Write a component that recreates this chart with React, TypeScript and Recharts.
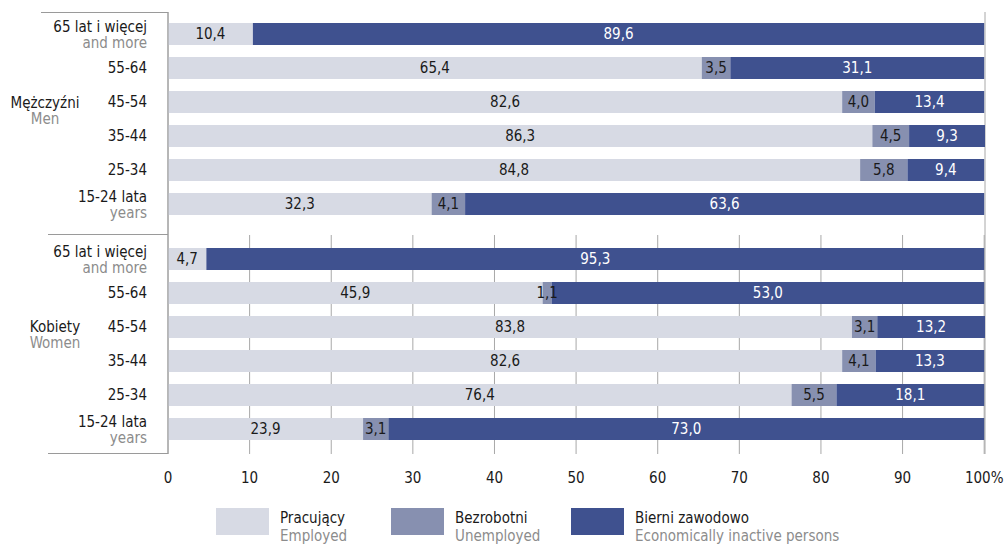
import React from 'react';
import { BarChart, Bar, XAxis, YAxis, CartesianGrid, LabelList } from 'recharts';

// age groups, top to bottom
const ages = ['65+', '55-64', '45-54', '35-44', '25-34', '15-24'];
const ageMain = ['65 lat i więcej', '55-64', '45-54', '35-44', '25-34', '15-24 lata'];
const ageSub = ['and more', '', '', '', '', 'years'];

const menEmployed = [10.4, 65.4, 82.6, 86.3, 84.8, 32.3];
const menUnemployed = [null, 3.5, 4.0, 4.5, 5.8, 4.1];
const menInactive = [89.6, 31.1, 13.4, 9.3, 9.4, 63.6];

const womenEmployed = [4.7, 45.9, 83.8, 82.6, 76.4, 23.9];
const womenUnemployed = [null, 1.1, 3.1, 4.1, 5.5, 3.1];
const womenInactive = [95.3, 53.0, 13.2, 13.3, 18.1, 73.0];

const xTicks = [0, 10, 20, 30, 40, 50, 60, 70, 80, 90, 100];

const seriesKeys = ['employed', 'unemployed', 'inactive'];
const seriesColors = ['#d7dae4', '#8790b0', '#3f518f'];
const seriesLabelColors = ['#1a1a1a', '#1a1a1a', '#ffffff'];
const legendMain = ['Pracujący', 'Bezrobotni', 'Bierni zawodowo'];
const legendSub = ['Employed', 'Unemployed', 'Economically inactive persons'];

const FONT = '"Liberation Sans Narrow", "DejaVu Sans Condensed", "Roboto", sans-serif';
const TEXT = '#1a1a1a';
const GREY_TEXT = '#8c8c8c';
const LINE = '#9a9a9a';

const buildRows = (emp: number[], unemp: (number | null)[], inact: number[]) =>
  ages.map((age, i) => ({ age, employed: emp[i], unemployed: unemp[i], inactive: inact[i] }));

const menData = buildRows(menEmployed, menUnemployed, menInactive);
const womenData = buildRows(womenEmployed, womenUnemployed, womenInactive);

const fmt = (v: any) => (v === null || v === undefined ? '' : Number(v).toFixed(1).replace('.', ','));

function AgeTick(props: any) {
  const { x, y, payload } = props;
  const i = ages.indexOf(payload.value);
  const sub = ageSub[i];
  const style = { fontFamily: FONT, fontSize: 15 };
  if (!sub) {
    return (
      <text x={x} y={y} textAnchor="end" dominantBaseline="central" fill={TEXT} style={style}>
        {ageMain[i]}
      </text>
    );
  }
  return (
    <g>
      <text x={x} y={y - 7} textAnchor="end" dominantBaseline="central" fill={TEXT} style={style}>
        {ageMain[i]}
      </text>
      <text x={x} y={y + 9} textAnchor="end" dominantBaseline="central" fill={GREY_TEXT} style={style}>
        {sub}
      </text>
    </g>
  );
}

function Bars() {
  return seriesKeys.map((key, i) => (
    <Bar key={key} dataKey={key} stackId="a" fill={seriesColors[i]} barSize={22} isAnimationActive={false}>
      <LabelList
        dataKey={key}
        position="center"
        formatter={fmt}
        fill={seriesLabelColors[i]}
        style={{ fontFamily: FONT, fontSize: 15 }}
      />
    </Bar>
  ));
}

const hLine = (left: number, top: number, width: number) => (
  <div style={{ position: 'absolute', left, top, width, height: 1, background: LINE }} />
);

const groupLabel = (main: string, sub: string, cx: number, top: number) => (
  <div
    style={{
      position: 'absolute', left: cx - 50, top, width: 100, textAlign: 'center',
      fontFamily: FONT, fontSize: 15, lineHeight: '16px',
    }}
  >
    <div style={{ color: TEXT }}>{main}</div>
    <div style={{ color: GREY_TEXT }}>{sub}</div>
  </div>
);

export default function App() {
  return (
    <div style={{ position: 'absolute', left: 0, top: 0, width: 1004, height: 544, background: '#fff', overflow: 'hidden' }}>
      {/* Men */}
      <div style={{ position: 'absolute', left: 0, top: 0 }}>
        <BarChart width={1004} height={235} data={menData} layout="vertical" margin={{ top: 12, right: 19, bottom: 0, left: 0 }}>
          <CartesianGrid horizontal={false} stroke="#a8a8a8" />
          <XAxis type="number" domain={[0, 100]} ticks={xTicks} height={0} tick={false} axisLine={false} tickLine={false} />
          <YAxis
            type="category"
            dataKey="age"
            width={168}
            padding={{ top: 5, bottom: 14 }}
            tick={<AgeTick />}
            tickSize={0}
            tickMargin={21}
            tickLine={false}
            axisLine={{ stroke: LINE }}
            interval={0}
          />
          {Bars()}
        </BarChart>
      </div>

      {/* Women */}
      <div style={{ position: 'absolute', left: 0, top: 235 }}>
        <BarChart width={1004} height={309} data={womenData} layout="vertical" margin={{ top: 0, right: 19, bottom: 50, left: 0 }}>
          <CartesianGrid horizontal={false} stroke="#a8a8a8" />
          <XAxis
            type="number"
            domain={[0, 100]}
            ticks={xTicks}
            height={40}
            axisLine={false}
            tickLine={false}
            tickSize={0}
            tickMargin={18}
            tickFormatter={(v: number) => (v === 100 ? '100%' : String(v))}
            tick={{ fill: TEXT, fontFamily: FONT, fontSize: 15 }}
            interval={0}
          />
          <YAxis
            type="category"
            dataKey="age"
            width={168}
            padding={{ top: 7, bottom: 8 }}
            tick={<AgeTick />}
            tickSize={0}
            tickMargin={21}
            tickLine={false}
            axisLine={{ stroke: LINE }}
            interval={0}
          />
          {Bars()}
        </BarChart>
      </div>

      {/* left table lines */}
      {hLine(41, 12, 127)}
      {hLine(48, 234, 120)}
      {hLine(48, 453, 120)}

      {groupLabel('Mężczyźni', 'Men', 45, 95)}
      {groupLabel('Kobiety', 'Women', 55, 319)}

      {/* legend */}
      {legendMain.map((label, i) => {
        const left = [216, 391, 571][i];
        return (
          <div key={label} style={{ position: 'absolute', left, top: 508, display: 'flex', fontFamily: FONT, fontSize: 15 }}>
            <div style={{ width: 53, height: 27, background: seriesColors[i] }} />
            <div style={{ marginLeft: 11, marginTop: 1, lineHeight: '18px' }}>
              <div style={{ color: TEXT }}>{label}</div>
              <div style={{ color: GREY_TEXT }}>{legendSub[i]}</div>
            </div>
          </div>
        );
      })}
    </div>
  );
}
